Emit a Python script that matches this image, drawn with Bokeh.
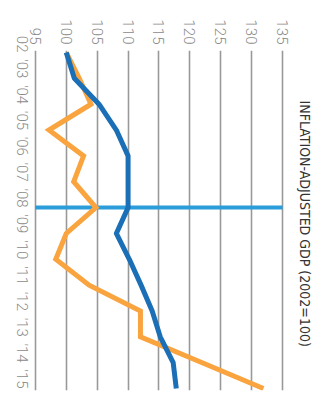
import math

from bokeh.core.properties import value
from bokeh.embed import file_html
from bokeh.models import FixedTicker, Range1d
from bokeh.plotting import figure
from bokeh.resources import INLINE

# Annual index values, 2002 = 100
years = list(range(2002, 2016))
year_labels = ["02", "'03", "'04", "'05", "'06", "'07", "'08",
               "'09", "'10", "'11", "'12", "'13", "'14", "'15"]
gdp_index = [100.0, 101.3, 105.3, 108.1, 110.0, 110.0, 110.0,
             108.1, 110.2, 112.1, 113.9, 115.2, 117.3, 117.8]
orange_index = [100.0, 102.1, 104.0, 97.2, 102.8, 101.2, 104.8,
                100.0, 98.3, 103.7, 112.0, 112.0, 122.0, 131.9]
value_ticks = [95, 100, 105, 110, 115, 120, 125, 130, 135]
marker_year = 2008
title_text = "INFLATION-ADJUSTED GDP (2002=100)"

# Page geometry (the chart is laid out sideways: values run left to right,
# years run top to bottom)
W, H = 322, 400
LEFT, TOP, BOTTOM = 22, 50, 10
PX_PER_UNIT = 6.35
PX_PER_YEAR = 25.85
X_FIRST = 27   # pixel column of the lowest value tick
Y_FIRST = 52   # pixel row of the first year

lo, hi = value_ticks[0], value_ticks[-1]
x_range = Range1d(lo - (X_FIRST - LEFT) / PX_PER_UNIT, lo + (W - X_FIRST) / PX_PER_UNIT)
y_range = Range1d(years[0] + (H - BOTTOM - Y_FIRST) / PX_PER_YEAR,
                  years[0] - (Y_FIRST - TOP) / PX_PER_YEAR)

p = figure(width=W, height=H, x_range=x_range, y_range=y_range,
           output_backend="svg", toolbar_location=None,
           x_axis_location="above", min_border=0,
           min_border_left=LEFT, min_border_top=TOP,
           min_border_right=0, min_border_bottom=BOTTOM,
           outline_line_color=None, background_fill_color="white",
           border_fill_color="white")

TICK_FONT = "'Roboto Light', Roboto, sans-serif"
TICK_COLOR = "#8a8a8a"

xa = p.xaxis[0]
xa.ticker = FixedTicker(ticks=value_ticks)
xa.major_label_orientation = -math.pi / 2
xa.axis_line_color = None
xa.major_tick_line_color = None
xa.minor_tick_line_color = None
xa.major_label_standoff = 0
xa.major_label_text_font = TICK_FONT
xa.major_label_text_font_size = "15px"
xa.major_label_text_color = TICK_COLOR

ya = p.yaxis[0]
ya.ticker = FixedTicker(ticks=years)
ya.major_label_overrides = {y: lab for y, lab in zip(years, year_labels)}
ya.major_label_orientation = -math.pi / 2
ya.axis_line_color = None
ya.major_tick_line_color = None
ya.minor_tick_line_color = None
ya.major_label_standoff = 3
ya.major_label_text_font = TICK_FONT
ya.major_label_text_font_size = "15px"
ya.major_label_text_color = TICK_COLOR

# Vertical rules at each value tick
p.xgrid.ticker = FixedTicker(ticks=value_ticks)
p.xgrid.grid_line_color = "#999999"
p.xgrid.grid_line_width = 1.6
p.ygrid.visible = False

# Marker rule at 2008
p.line(x=[lo, hi], y=[marker_year, marker_year],
       line_color="#2c9ddb", line_width=4)

p.line(x=orange_index, y=years, line_color="#f9a43f", line_width=5,
       line_join="miter")
p.line(x=gdp_index, y=years, line_color="#1a6fb6", line_width=5,
       line_join="round")

p.text(x=[lo + (304 - X_FIRST) / PX_PER_UNIT],
       y=[years[0] + (100 - Y_FIRST) / PX_PER_YEAR],
       text=[title_text], angle=-math.pi / 2,
       text_align="left", text_baseline="middle",
       text_font=value("'Liberation Sans Narrow', 'DejaVu Sans Condensed', 'Roboto Condensed', sans-serif"),
       text_font_size="14px", text_color="#333333")

open("out.html", "w").write(file_html(p, INLINE))
